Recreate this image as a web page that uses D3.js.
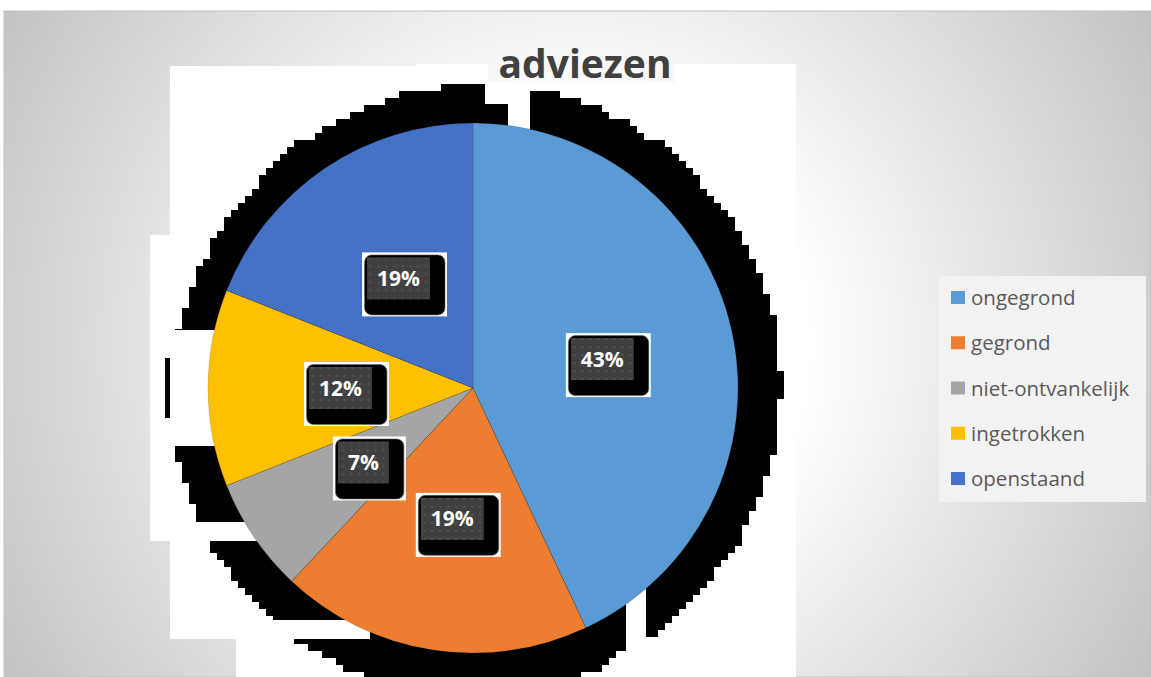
<!DOCTYPE html>
<html>
<head>
<meta charset="utf-8">
<script src="https://cdn.jsdelivr.net/npm/d3@7"></script>
<style>
  body { margin: 0; background: #fff; }
  svg { display: block; }
</style>
</head>
<body>
<svg></svg>
<script>
const size = {w: 1151, h: 677};

// chart data
const categories = ['ongegrond', 'gegrond', 'niet-ontvankelijk', 'ingetrokken', 'openstaand'];
const values = [43, 19, 7, 12, 19];
const colors = ['#5B9BD5', '#ED7D31', '#A5A5A5', '#FFC000', '#4472C4'];
const title = 'adviezen';

const svg = d3.select('svg')
    .attr('width', size.w)
    .attr('height', size.h);

const defs = svg.append('defs');

// background gradient of the chart area
const grad = defs.append('radialGradient')
    .attr('id', 'bg')
    .attr('gradientUnits', 'userSpaceOnUse')
    .attr('cx', 577).attr('cy', 344).attr('r', 660);
grad.append('stop').attr('offset', 0).attr('stop-color', '#ffffff');
grad.append('stop').attr('offset', 0.35).attr('stop-color', '#ffffff');
grad.append('stop').attr('offset', 1).attr('stop-color', '#c3c3c3');

// dotted fill for the data labels
const pat = defs.append('pattern')
    .attr('id', 'dots')
    .attr('patternUnits', 'userSpaceOnUse')
    .attr('width', 8).attr('height', 8);
pat.append('rect').attr('width', 8).attr('height', 8).attr('fill', '#404040');
pat.append('circle').attr('cx', 4).attr('cy', 4).attr('r', 0.9).attr('fill', '#5e5e5e');

// chart area
svg.append('rect')
    .attr('x', 4).attr('y', 11)
    .attr('width', size.w - 4).attr('height', size.h - 11)
    .attr('fill', 'url(#bg)')
    .attr('stroke', '#c0c0c0');

// white plot backdrop
const backG = svg.append('g').attr('fill', '#fff');
[[170, 66, 250, 475], [417, 64, 379, 613], [150, 235, 40, 306],
 [170, 541, 250, 98], [236, 639, 184, 38]].forEach(r => {
    backG.append('rect').attr('x', r[0]).attr('y', r[1]).attr('width', r[2]).attr('height', r[3]);
});

const center = {x: 473, y: 388};
const radius = 265;

// stepped black shadow behind the pie
const sh = {x: 476, y: 390, r: 305, step: 7};
const shPts = d3.range(0, 361, 2).map(a => {
    const t = a * Math.PI / 180;
    return [Math.round((sh.x + sh.r * Math.sin(t)) / sh.step) * sh.step,
            Math.round((sh.y - sh.r * Math.cos(t)) / sh.step) * sh.step];
});
svg.append('path')
    .attr('d', d3.line().curve(d3.curveStepAfter)(shPts) + 'Z')
    .attr('fill', '#000');

// broken bits of the shadow
const gapG = svg.append('g').attr('fill', '#fff');
[[150, 330, 66, 116], [150, 522, 150, 19], [170, 620, 200, 19],
 [626, 560, 20, 117], [646, 647, 150, 30], [508, 64, 22, 66], [485, 80, 25, 24]].forEach(r => {
    gapG.append('rect').attr('x', r[0]).attr('y', r[1]).attr('width', r[2]).attr('height', r[3]);
});
svg.append('rect').attr('x', 165).attr('y', 358).attr('width', 5).attr('height', 60).attr('fill', '#000');

// title on its own patch of background
svg.append('rect')
    .attr('x', 488).attr('y', 30).attr('width', 186).attr('height', 53)
    .attr('fill', 'url(#bg)');
svg.append('text')
    .attr('x', 585).attr('y', 78)
    .attr('text-anchor', 'middle')
    .style('font-family', '"Open Sans", sans-serif')
    .style('font-weight', 'bold')
    .style('font-size', '39px')
    .attr('fill', '#404040')
    .text(title);

// pie
const pie = d3.pie().sort(null).value(d => d);
const arcs = pie(values);
const arc = d3.arc().innerRadius(0).outerRadius(radius);
const pieG = svg.append('g').attr('transform', `translate(${center.x},${center.y})`);

pieG.selectAll('path')
    .data(arcs)
    .join('path')
    .attr('d', arc)
    .attr('fill', (d, i) => colors[i])
    .attr('stroke', 'rgba(0,0,0,0.25)')
    .attr('stroke-width', 0.5);

// data labels
const total = d3.sum(values);
const fmt = d3.format('.0%');
const labG = pieG.selectAll('g.lab')
    .data(arcs)
    .join('g')
    .classed('lab', true)
    .attr('transform', d => `translate(${arc.centroid(d)})`);

labG.each(function(d) {
    const g = d3.select(this);
    const txt = fmt(d.value / total);
    const t = g.append('text')
        .attr('text-anchor', 'middle')
        .attr('dy', '0.36em')
        .style('font-family', '"Open Sans", sans-serif')
        .style('font-weight', 'bold')
        .style('font-size', '21px')
        .attr('fill', '#fff')
        .text(txt);
    const tw = t.node().getComputedTextLength();
    const gw = tw + 20;
    g.insert('rect', 'text')
        .attr('x', -gw / 2 - 5).attr('y', -26)
        .attr('width', gw + 22).attr('height', 64)
        .attr('fill', '#fff');
    g.insert('rect', 'text')
        .attr('x', -gw / 2 - 2.5).attr('y', -23.5)
        .attr('width', gw + 17.5).attr('height', 60)
        .attr('rx', 7)
        .attr('fill', '#000')
        .attr('stroke', '#666').attr('stroke-width', 0.6);
    g.insert('rect', 'text')
        .attr('x', -gw / 2).attr('y', -21)
        .attr('width', gw).attr('height', 42)
        .attr('fill', 'url(#dots)');
});

// legend
const legG = svg.append('g');
legG.append('rect')
    .attr('x', 939).attr('y', 276)
    .attr('width', 207).attr('height', 226)
    .attr('fill', '#f2f2f2');

const legY = d3.scalePoint().domain(categories).range([298, 479]);
const items = legG.selectAll('g.item')
    .data(categories)
    .join('g')
    .classed('item', true)
    .attr('transform', d => `translate(951,${legY(d)})`);
items.append('rect')
    .attr('x', 0).attr('y', -7)
    .attr('width', 14).attr('height', 13)
    .attr('fill', (d, i) => colors[i]);
items.append('text')
    .attr('x', 20).attr('y', 0)
    .attr('dy', '0.35em')
    .style('font-family', '"Open Sans", sans-serif')
    .style('font-size', '20.5px')
    .attr('fill', '#595959')
    .text(d => d);
</script>
</body>
</html>
